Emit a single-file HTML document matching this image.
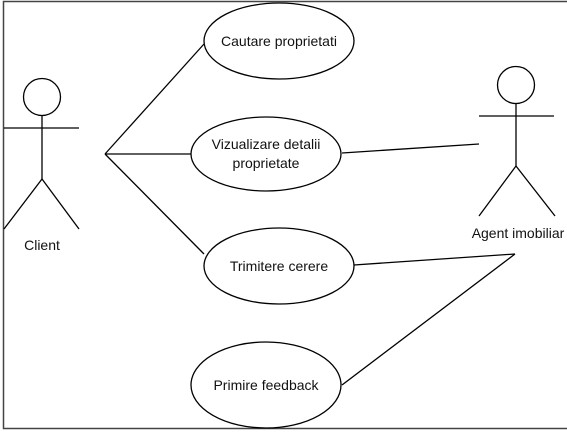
<!DOCTYPE html>
<html><head><style>body{margin:0;background:#fff}svg{display:block}</style></head><body>
<svg width="567" height="432" xmlns="http://www.w3.org/2000/svg" font-family="Liberation Sans, Arial, sans-serif" font-size="14">
<rect x="3.5" y="1.5" width="600" height="427" fill="#fff" stroke="#444" stroke-width="1.5"/>
<g stroke="#000" stroke-width="1.3" fill="none">
<line x1="105" y1="154" x2="204" y2="44"/>
<line x1="105" y1="154" x2="191" y2="154"/>
<line x1="105" y1="154" x2="204" y2="254"/>
<line x1="342" y1="153" x2="479" y2="144"/>
<line x1="354" y1="265" x2="515" y2="254"/>
<line x1="515" y1="254" x2="342" y2="385"/>
<ellipse cx="279" cy="41" rx="75" ry="38" fill="#fff"/>
<ellipse cx="266" cy="154" rx="75" ry="37" fill="#fff"/>
<ellipse cx="279" cy="266" rx="75" ry="38" fill="#fff"/>
<ellipse cx="266" cy="385" rx="75" ry="43" fill="#fff"/>
<circle cx="42" cy="97" r="18.5"/>
<line x1="42" y1="116" x2="42" y2="179"/>
<line x1="4" y1="128" x2="79" y2="128"/>
<line x1="42" y1="179" x2="4" y2="229"/>
<line x1="42" y1="179" x2="79" y2="229"/>
<circle cx="516" cy="85" r="18.5"/>
<line x1="516" y1="104" x2="516" y2="166"/>
<line x1="479" y1="116" x2="554" y2="116"/>
<line x1="516" y1="166" x2="479" y2="216"/>
<line x1="516" y1="166" x2="555" y2="216"/>
</g>
<g fill="#111" text-anchor="middle">
<text x="279" y="46">Cautare proprietati</text>
<text x="266" y="149">Vizualizare detalii</text>
<text x="266" y="168">proprietate</text>
<text x="279" y="271">Trimitere cerere</text>
<text x="266" y="390">Primire feedback</text>
<text x="42" y="250">Client</text>
<text x="518" y="238">Agent imobiliar</text>
</g>
</svg>
</body></html>
